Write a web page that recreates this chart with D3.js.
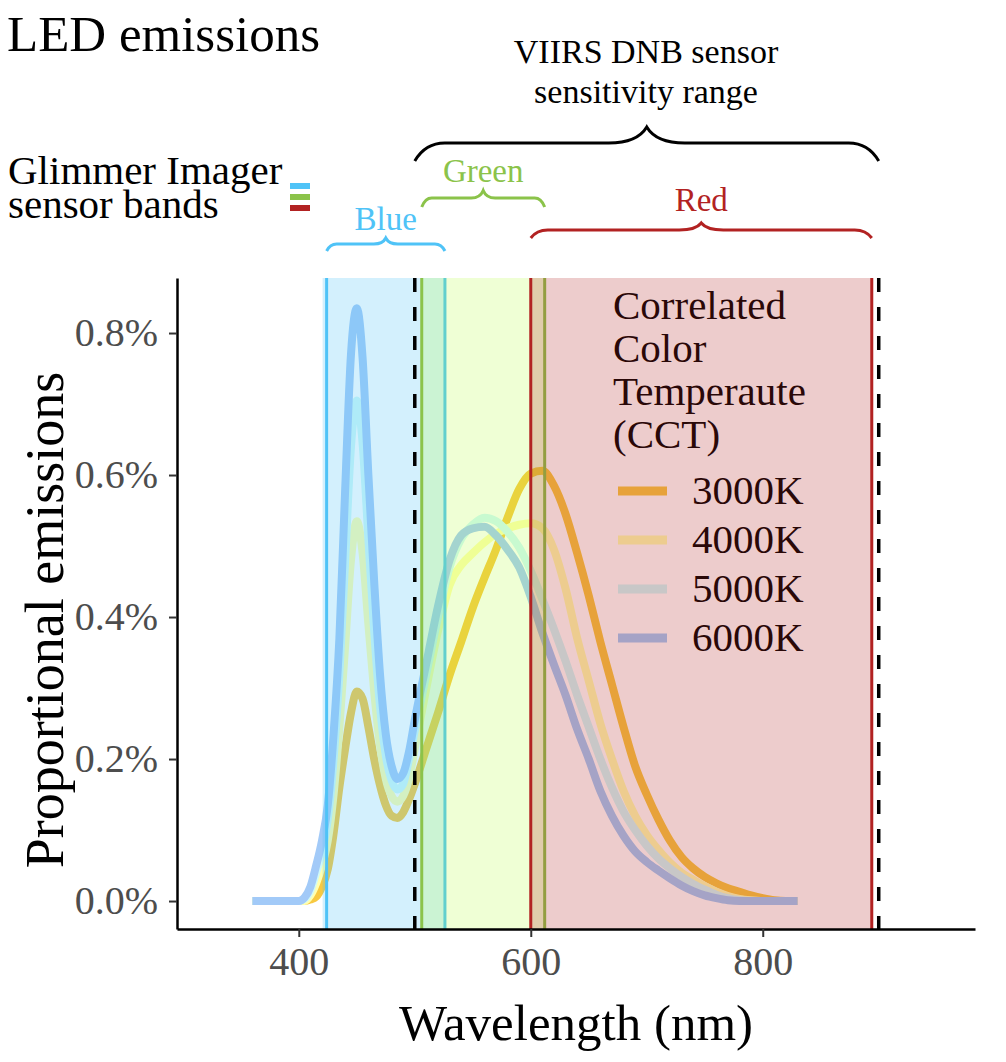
<!DOCTYPE html>
<html>
<head>
<meta charset="utf-8">
<script src="https://cdn.jsdelivr.net/npm/d3@7"></script>
<style>
  body { margin: 0; background: #fff; }
  svg text { font-family: "Liberation Serif", "Times New Roman", serif; }
</style>
</head>
<body>
<div id="chart"></div>
<script>
// wavelengths (nm) shared by every series
const wavelengths = [360, 370, 380, 390, 400,
  405, 410, 415, 420, 425, 430, 435, 440, 445, 450, 455, 460, 465, 470, 475, 480, 485, 490, 495, 500,
  510, 520, 530, 540, 550, 560, 570, 580, 590, 600, 610, 620, 630, 640, 650, 660, 670, 680, 690, 700,
  710, 720, 730, 740, 750, 760, 770, 780, 790, 800, 810, 820, 830];

// proportional emissions (%)
const cct3000 = [0, 0, 0, 0, 0,
  0, 0.002, 0.006, 0.02, 0.045, 0.095, 0.16, 0.215, 0.265, 0.295, 0.285, 0.245, 0.2, 0.163, 0.135, 0.12, 0.117, 0.125, 0.143, 0.165,
  0.215, 0.265, 0.318, 0.365, 0.413, 0.455, 0.495, 0.54, 0.58, 0.602, 0.606, 0.585, 0.545, 0.49, 0.43, 0.365, 0.305, 0.245, 0.19, 0.15,
  0.115, 0.085, 0.062, 0.046, 0.034, 0.025, 0.018, 0.013, 0.008, 0.004, 0.001, 0, 0];
const cct4000 = [0, 0, 0, 0, 0,
  0, 0.008, 0.025, 0.05, 0.085, 0.15, 0.245, 0.36, 0.48, 0.535, 0.49, 0.39, 0.295, 0.22, 0.172, 0.148, 0.14, 0.148, 0.172, 0.215,
  0.3, 0.38, 0.445, 0.473, 0.49, 0.505, 0.517, 0.525, 0.53, 0.532, 0.525, 0.495, 0.44, 0.37, 0.31, 0.25, 0.2, 0.155, 0.12, 0.093,
  0.072, 0.054, 0.04, 0.03, 0.021, 0.013, 0.007, 0.003, 0.001, 0, 0, 0, 0];
const cct5000 = [0, 0, 0, 0, 0,
  0.003, 0.015, 0.04, 0.07, 0.115, 0.2, 0.32, 0.48, 0.64, 0.705, 0.645, 0.51, 0.38, 0.275, 0.205, 0.17, 0.157, 0.165, 0.2, 0.24,
  0.32, 0.4, 0.47, 0.51, 0.53, 0.54, 0.535, 0.52, 0.498, 0.465, 0.425, 0.383, 0.338, 0.29, 0.245, 0.2, 0.16, 0.126, 0.1, 0.078,
  0.06, 0.046, 0.034, 0.024, 0.016, 0.009, 0.004, 0.001, 0, 0, 0, 0, 0];
const cct6000 = [0, 0, 0, 0, 0,
  0.005, 0.02, 0.05, 0.085, 0.135, 0.235, 0.37, 0.58, 0.77, 0.835, 0.765, 0.6, 0.45, 0.32, 0.235, 0.19, 0.172, 0.18, 0.21, 0.255,
  0.335, 0.415, 0.48, 0.515, 0.525, 0.527, 0.515, 0.495, 0.47, 0.428, 0.378, 0.333, 0.29, 0.242, 0.2, 0.155, 0.12, 0.092, 0.07, 0.055,
  0.043, 0.032, 0.022, 0.014, 0.008, 0.004, 0.001, 0, 0, 0, 0, 0, 0];

const cctLabels = ["3000K", "4000K", "5000K", "6000K"];
const cctColors = ["#f8c941", "#ffffb0", "#cff9f9", "#a2caf8"];

// Glimmer bands and VIIRS range (nm)
const bandNames = ["Blue", "Green", "Red"];
const bandStart = [424, 506, 600];
const bandEnd = [526, 612, 894];
const bandColors = ["#4fc3f7", "#8bc34a", "#b22222"];
const bandFills = ["#4fc3f7", "#adff2f", "#b22222"];
const viirsRange = [500, 900];

const xTicks = [400, 600, 800];
const yTicks = [0, 0.2, 0.4, 0.6, 0.8];

const width = 1006, height = 1062;
const pLeft = 177, pRight = 975, pTop = 278, pBottom = 929;

const x = d3.scaleLinear().domain([295, 983]).range([pLeft, pRight]);
const y = d3.scaleLinear().domain([-0.0394, 0.8775]).range([pBottom, pTop]);

const svg = d3.select("#chart").append("svg")
  .attr("width", width)
  .attr("height", height);

// curves
const line = d3.line()
  .x((d, i) => x(wavelengths[i]))
  .y(d => y(d))
  .curve(d3.curveMonotoneX);

[cct3000, cct4000, cct5000, cct6000].forEach((s, i) => {
  svg.append("path")
    .attr("d", line(s))
    .attr("fill", "none")
    .attr("stroke", cctColors[i])
    .attr("stroke-width", 8)
    .attr("stroke-linejoin", "round");
});

// legend inside the panel (gets covered by the red band like the rest)
const legend = svg.append("g");
["Correlated", "Color", "Temperaute", "(CCT)"].forEach((t, i) => {
  legend.append("text")
    .attr("x", 613)
    .attr("y", 319 + i * 43)
    .attr("font-size", 41)
    .attr("fill", "#000")
    .text(t);
});
cctLabels.forEach((t, i) => {
  const cy = 491 + i * 49;
  legend.append("line")
    .attr("x1", 618).attr("x2", 667)
    .attr("y1", cy).attr("y2", cy)
    .attr("stroke", cctColors[i])
    .attr("stroke-width", 9);
  legend.append("text")
    .attr("x", 692)
    .attr("y", cy + 13)
    .attr("font-size", 41)
    .attr("fill", "#000")
    .text(t);
});

// sensor bands, drawn over the curves
bandNames.forEach((b, i) => {
  svg.append("rect")
    .attr("x", x(bandStart[i]) - (i === 0 ? 4 : 0))
    .attr("y", pTop)
    .attr("width", x(bandEnd[i]) - x(bandStart[i]) + (i === 0 ? 4 : 0))
    .attr("height", pBottom - pTop)
    .attr("fill", bandFills[i])
    .attr("fill-opacity", [0.25, 0.2, 0.23][i]);
  [bandStart[i], bandEnd[i]].forEach(v => {
    svg.append("line")
      .attr("x1", x(v)).attr("x2", x(v))
      .attr("y1", pTop).attr("y2", pBottom)
      .attr("stroke", bandColors[i])
      .attr("stroke-width", 3);
  });
});

// VIIRS limits
viirsRange.forEach(v => {
  svg.append("line")
    .attr("x1", x(v)).attr("x2", x(v))
    .attr("y1", pTop).attr("y2", pBottom)
    .attr("stroke", "#000")
    .attr("stroke-width", 3.5)
    .attr("stroke-dasharray", "14,15");
});

// axes
const xAxis = svg.append("g")
  .attr("transform", `translate(0,${pBottom})`)
  .call(d3.axisBottom(x).tickValues(xTicks).tickSize(8).tickSizeOuter(0).tickPadding(10));
const yAxis = svg.append("g")
  .attr("transform", `translate(${pLeft},0)`)
  .call(d3.axisLeft(y).tickValues(yTicks).tickSize(8).tickSizeOuter(0).tickPadding(11)
    .tickFormat(d => d.toFixed(1) + "%"));
[xAxis, yAxis].forEach(a => {
  a.select(".domain").attr("stroke", "#000").attr("stroke-width", 2.5);
  a.selectAll(".tick line").attr("stroke", "#333").attr("stroke-width", 2);
  a.selectAll(".tick text")
    .attr("fill", "#4d4d4d")
    .attr("font-size", 40)
    .style("font-family", '"Liberation Serif", serif');
});

svg.append("text")
  .attr("x", (pLeft + pRight) / 2)
  .attr("y", 1040)
  .attr("text-anchor", "middle")
  .attr("font-size", 51)
  .text("Wavelength (nm)");

svg.append("text")
  .attr("transform", "translate(63,620) rotate(-90)")
  .attr("text-anchor", "middle")
  .attr("font-size", 54)
  .text("Proportional emissions");

// title
svg.append("text")
  .attr("x", 7)
  .attr("y", 51)
  .attr("font-size", 51)
  .text("LED emissions");

// braces above the panel
function brace(x0, x1, yEnd, yFlat, yTip, r, r2) {
  const m = (x0 + x1) / 2;
  return `M${x0},${yEnd} Q${x0 + r * 0.35},${yFlat} ${x0 + r},${yFlat}` +
    ` L${m - r2},${yFlat} Q${m - r2 * 0.25},${yFlat} ${m},${yTip}` +
    ` Q${m + r2 * 0.25},${yFlat} ${m + r2},${yFlat}` +
    ` L${x1 - r},${yFlat} Q${x1 - r * 0.35},${yFlat} ${x1},${yEnd}`;
}

svg.append("path")
  .attr("d", brace(x(viirsRange[0]), x(viirsRange[1]), 161, 143, 127, 30, 38))
  .attr("fill", "none")
  .attr("stroke", "#000")
  .attr("stroke-width", 3);
svg.append("text")
  .attr("x", 646).attr("y", 63)
  .attr("text-anchor", "middle")
  .attr("font-size", 34)
  .text("VIIRS DNB sensor");
svg.append("text")
  .attr("x", 646).attr("y", 103)
  .attr("text-anchor", "middle")
  .attr("font-size", 34)
  .text("sensitivity range");

const braceY = [[251, 244, 238, 10, 12, 230], [207, 198, 190.5, 10, 12, 182], [238, 230, 223, 17, 22, 211]];
bandNames.forEach((b, i) => {
  const [ye, yf, yt, r, r2, ty] = braceY[i];
  svg.append("path")
    .attr("d", brace(x(bandStart[i]), x(bandEnd[i]), ye, yf, yt, r, r2))
    .attr("fill", "none")
    .attr("stroke", bandColors[i])
    .attr("stroke-width", 3);
  svg.append("text")
    .attr("x", (x(bandStart[i]) + x(bandEnd[i])) / 2)
    .attr("y", ty)
    .attr("text-anchor", "middle")
    .attr("font-size", 33)
    .attr("fill", bandColors[i])
    .text(b);
});

// Glimmer label (two lines, tight leading) with colour bars
const glimmer = svg.append("text").attr("font-size", 41);
glimmer.append("tspan").attr("x", 8).attr("y", 184).text("Glimmer Imager");
glimmer.append("tspan").attr("x", 8).attr("y", 218).text("sensor bands");
bandColors.forEach((c, i) => {
  svg.append("rect")
    .attr("x", 290).attr("y", 183 + i * 11)
    .attr("width", 20).attr("height", 6)
    .attr("fill", c);
});
</script>
</body>
</html>
